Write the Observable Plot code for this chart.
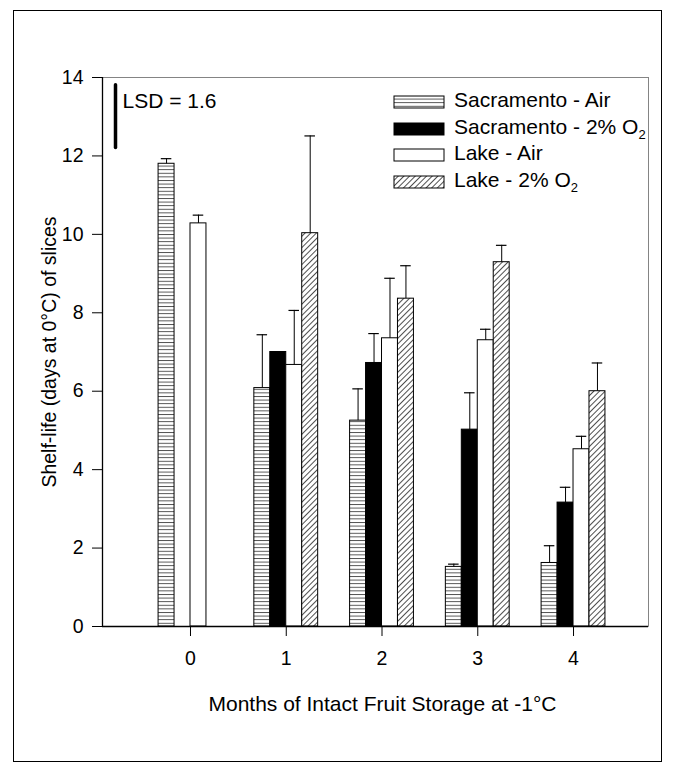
<!DOCTYPE html>
<html>
<head>
<meta charset="utf-8">
<script src="https://cdn.jsdelivr.net/npm/d3@7"></script>
<script src="https://cdn.jsdelivr.net/npm/@observablehq/plot@0.6"></script>
<style>
  html, body { margin: 0; padding: 0; background: #fff; }
  #wrap { position: relative; width: 675px; height: 781px; font-family: "Liberation Sans", Arial, sans-serif; }
  #border { position: absolute; left: 13px; top: 10px; width: 647px; height: 750px; border: 1.5px solid #000; pointer-events: none; }
  #legend { position: absolute; left: 393px; top: 90px; font-size: 21px; color: #000; }
  .row { position: absolute; left: 0; height: 22px; white-space: nowrap; }
  .row svg { position: absolute; left: 0; top: 5px; }
  .row span { position: absolute; left: 61px; top: -1px; line-height: 22px; }
  sub { font-size: 0.62em; vertical-align: -0.35em; line-height: 0; }
</style>
</head>
<body>
<div id="wrap"><div id="border"></div></div>
<script>
// ---- data ----
const months = [0, 1, 2, 3, 4];
const seriesNames = ["Sacramento - Air", "Sacramento - 2% O2", "Lake - Air", "Lake - 2% O2"];
const sacAir    = [11.8, 6.08, 5.25, 1.52, 1.62];
const sacAirErr = [0.13, 1.36, 0.81, 0.07, 0.44];
const sacO2     = [null, 7.0, 6.72, 5.02, 3.16];
const sacO2Err  = [null, null, 0.75, 0.94, 0.39];
const lakeAir    = [10.28, 6.67, 7.35, 7.30, 4.52];
const lakeAirErr = [0.21, 1.39, 1.53, 0.28, 0.33];
const lakeO2    = [null, 10.03, 8.36, 9.29, 6.0];
const lakeO2Err = [null, 2.48, 0.84, 0.43, 0.72];
const yTicks = [0, 2, 4, 6, 8, 10, 12, 14];
const lsd = 1.6;
const lsdTop = 13.8;
const xLabel = "Months of Intact Fruit Storage at -1°C";
const yLabel = "Shelf-life (days at 0°C) of slices";

// ---- build table ----
const values = [sacAir, sacO2, lakeAir, lakeO2];
const errs = [sacAirErr, sacO2Err, lakeAirErr, lakeO2Err];
const fills = ["url(#hlines)", "black", "white", "url(#dlines)"];
const bw = 1 / 6; // bar width in month units
const rows = [];
seriesNames.forEach((s, i) => {
  months.forEach((m, j) => {
    if (values[i][j] == null) return;
    rows.push({series: s, idx: i, month: m, value: values[i][j], err: errs[i][j]});
  });
});
const left = d => d.month + (d.idx - 2) * bw;
const center = d => d.month + (d.idx - 1.5) * bw;
const xMin = -0.919, xMax = 4.783;

const chart = Plot.plot({
  width: 675,
  height: 781,
  marginLeft: 102,
  marginRight: 27,
  marginTop: 77,
  marginBottom: 155,
  style: {fontFamily: "Liberation Sans, Arial, sans-serif", background: "transparent"},
  x: {domain: [xMin, xMax]},
  y: {domain: [0, 14]},
  marks: [
    Plot.frame({stroke: "#666", strokeWidth: 0.8}),
    ...seriesNames.map((s, i) => Plot.rect(rows.filter(d => d.idx === i), {
      x1: left, x2: d => left(d) + bw, y1: d => 0, y2: "value",
      fill: fills[i], stroke: "black", strokeWidth: 1
    })),
    Plot.ruleX(rows.filter(d => d.err != null), {x: center, y1: "value", y2: d => d.value + d.err, stroke: "black", strokeWidth: 1}),
    Plot.ruleY(rows.filter(d => d.err != null), {y: d => d.value + d.err, x1: d => center(d) - 0.055, x2: d => center(d) + 0.055, stroke: "black", strokeWidth: 1.2}),
    Plot.ruleY([0], {stroke: "black", strokeWidth: 1.3}),
    Plot.ruleX([xMin], {stroke: "black", strokeWidth: 1.3}),
    Plot.axisY({ticks: yTicks, tickSize: 10, tickPadding: 9, fontSize: 19.5, label: null, tickFormat: d => d}),
    Plot.axisX({ticks: months, tickSize: 10, tickPadding: 15, fontSize: 19.5, label: null, tickFormat: d => d}),
    Plot.ruleX([lsd], {x: () => xMin, dx: 13, y1: d => lsdTop - d, y2: () => lsdTop, stroke: "black", strokeWidth: 3.5, strokeLinecap: "round"}),
    Plot.text([lsd], {x: () => xMin, y: () => 13.4, dx: 20, text: d => `LSD = ${d}`, textAnchor: "start", fontSize: 21, fill: "black"}),
    Plot.text([xLabel], {frameAnchor: "bottom", dy: 78, dx: 7, lineAnchor: "middle", textAnchor: "middle", fontSize: 21, fill: "black"}),
    Plot.text([yLabel], {frameAnchor: "left", dx: -53, rotate: -90, textAnchor: "middle", lineAnchor: "middle", fontSize: 19.5, fill: "black"})
  ]
});

// patterns
const ns = "http://www.w3.org/2000/svg";
const defs = document.createElementNS(ns, "defs");
defs.innerHTML = `
  <pattern id="hlines" patternUnits="userSpaceOnUse" width="8" height="3.6">
    <rect width="8" height="3.6" fill="white"/>
    <line x1="0" x2="8" y1="0.5" y2="0.5" stroke="#222" stroke-width="0.8"/>
  </pattern>
  <pattern id="dlines" patternUnits="userSpaceOnUse" width="4" height="4" patternTransform="rotate(45)">
    <rect width="4" height="4" fill="white"/>
    <line x1="0.5" x2="0.5" y1="0" y2="4" stroke="#222" stroke-width="0.8"/>
  </pattern>`;
chart.insertBefore(defs, chart.firstChild);
chart.style.position = "absolute";
chart.style.left = "0";
chart.style.top = "0";
const wrap = document.getElementById("wrap");
wrap.appendChild(chart);

// legend
const legend = document.createElement("div");
legend.id = "legend";
const labelsHtml = ["Sacramento - Air", "Sacramento - 2% O<sub>2</sub>", "Lake - Air", "Lake - 2% O<sub>2</sub>"];
labelsHtml.forEach((lab, i) => {
  const r = document.createElement("div");
  r.className = "row";
  r.style.top = (i * 26.5) + "px";
  r.innerHTML = `<svg width="52" height="14"><rect x="1" y="1" width="50" height="12" fill="${fills[i]}" stroke="black" stroke-width="1"/></svg><span>${lab}</span>`;
  legend.appendChild(r);
});
wrap.appendChild(legend);
</script>
</body>
</html>
